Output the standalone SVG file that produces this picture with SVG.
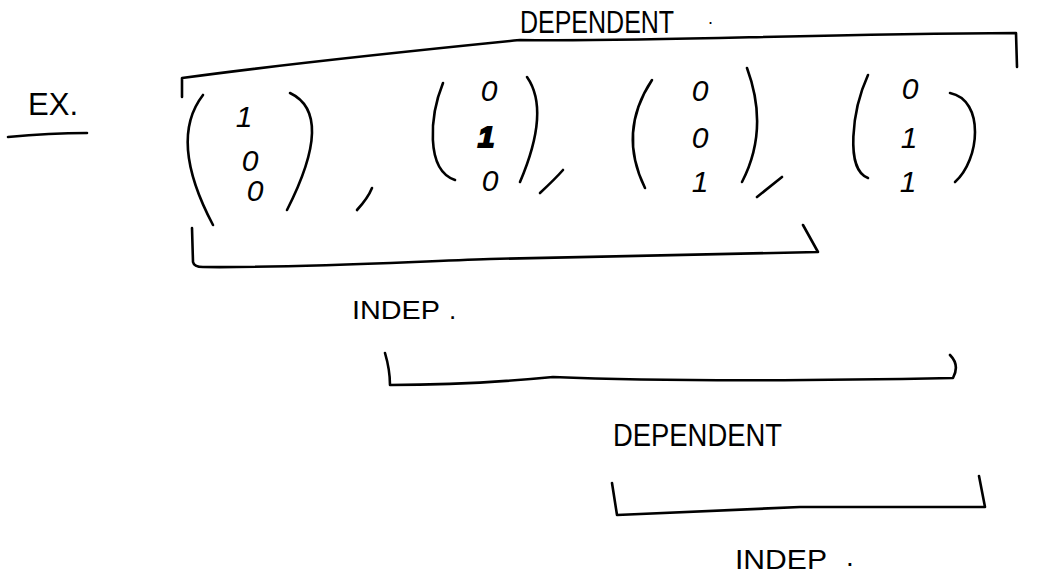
<svg xmlns="http://www.w3.org/2000/svg" width="1038" height="583" viewBox="0 0 1038 583">
<style>
.s{fill:none;stroke:#000;stroke-width:2.6;stroke-linecap:round;stroke-linejoin:round}
.t{font-family:"Liberation Sans",Arial,sans-serif;fill:#000}
.d{font-family:"Liberation Sans",Arial,sans-serif;font-size:30px;font-style:italic;fill:#000;text-anchor:middle}
</style>
<rect width="1038" height="583" fill="#fff"/>
<g id="example-label">
<text class="t" x="28" y="115" font-size="32" textLength="50" lengthAdjust="spacingAndGlyphs">EX.</text>
<path class="s" d="M8,137 Q50,133 87,133"/>
</g>
<g id="vector1">
<path class="s" d="M203,95 Q168,140 213,225"/>
<path class="s" d="M290,93 Q335.5,114.5 287,210"/>
<text class="d" x="244" y="127">1</text>
<text class="d" x="250" y="171">0</text>
<text class="d" x="255" y="201">0</text>
<path class="s" d="M357,210 Q368,198 372,188"/>
</g>
<g id="vector2">
<path class="s" d="M443,83 C430,115 425,170 455,180"/>
<path class="s" d="M527,77 Q550.5,110.5 520,182"/>
<text class="d" x="489" y="101">0</text>
<text class="d" x="486" y="147" font-weight="bold" style="stroke:#000;stroke-width:2">1</text>
<text class="d" x="490" y="191">0</text>
<path class="s" d="M540,193 Q556,178 563,170"/>
</g>
<g id="vector3">
<path class="s" d="M652,80 Q617.5,132 645,188"/>
<path class="s" d="M747,68 Q769.5,129 742,182"/>
<text class="d" x="700" y="101">0</text>
<text class="d" x="700" y="148">0</text>
<text class="d" x="700" y="192">1</text>
<path class="s" d="M757,197 Q772,185 782,177"/>
</g>
<g id="vector4">
<path class="s" d="M868,75 C852,110 845,170 868,178"/>
<path class="s" d="M950,93 C985,100 980,160 955,182"/>
<text class="d" x="910" y="99">0</text>
<text class="d" x="909" y="148">1</text>
<text class="d" x="908" y="192">1</text>
</g>
<g id="brackets">
<path class="s" d="M182,97 L182,78 C300,62 420,50 520,40 C650,42 800,34 1016,33 L1017,67"/>
<path class="s" d="M192,228 L193,262 Q194,267 203,267 C300,268 400,262 490,259 L818,252 L803,225"/>
<path class="s" d="M385,353 Q390,370 390,385 Q470,385 553,377 Q700,383 953,378 Q960,365 950,355"/>
<path class="s" d="M612,483 L617,515 L800,507 L985,507 L979,476"/>
</g>
<g id="labels">
<text class="t" transform="translate(520,33) scale(1,1.25)" x="0" y="0" font-size="25">DEPENDENT</text>
<text class="t" x="708" y="24" font-size="18">.</text>
<text class="t" x="352" y="319" font-size="26" textLength="88" lengthAdjust="spacingAndGlyphs">INDEP</text>
<text class="t" x="449" y="319" font-size="26">.</text>
<text class="t" x="613" y="446" font-size="32" textLength="169" lengthAdjust="spacingAndGlyphs">DEPENDENT</text>
<text class="t" x="735" y="569" font-size="28" textLength="92" lengthAdjust="spacingAndGlyphs">INDEP</text>
<text class="t" x="846" y="566" font-size="28">.</text>
</g>
</svg>
